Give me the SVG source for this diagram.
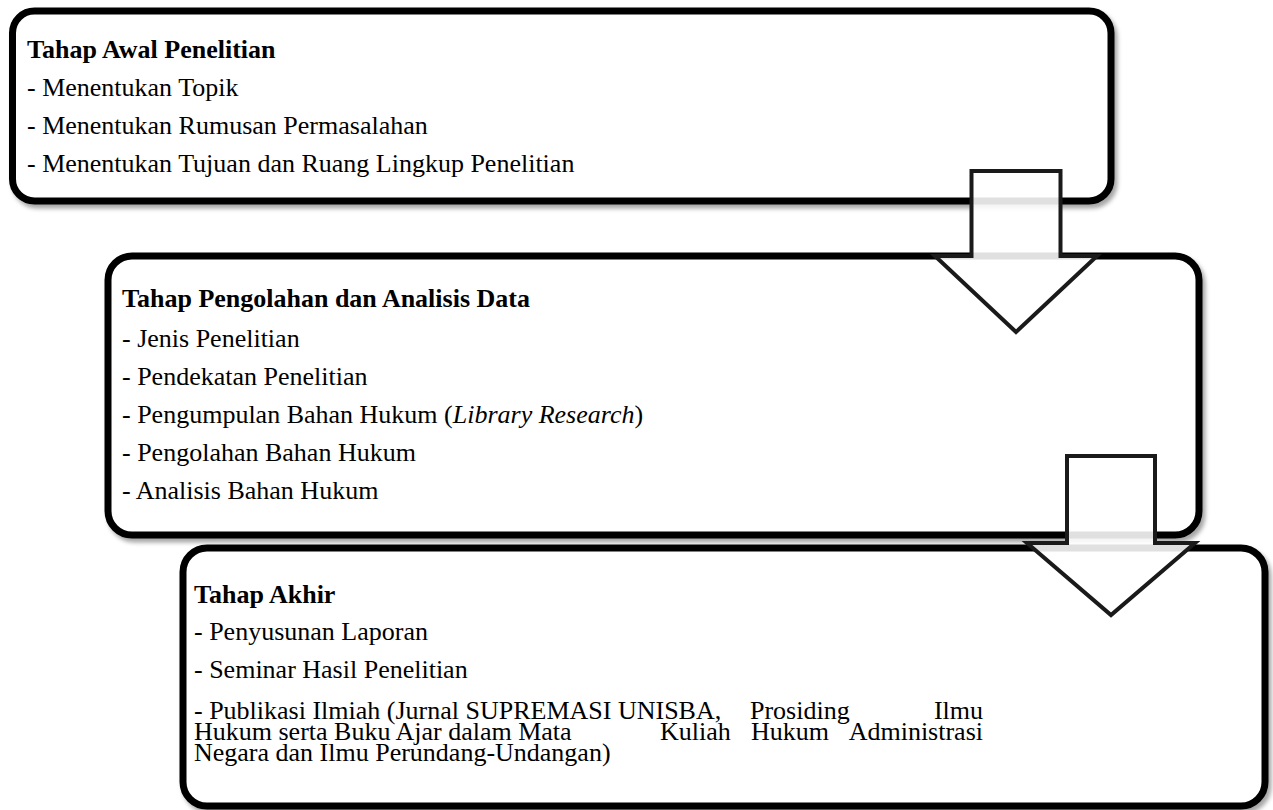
<svg xmlns="http://www.w3.org/2000/svg" width="1273" height="810" viewBox="0 0 1273 810">
<defs>
<filter id="sh" x="-5%" y="-5%" width="110%" height="115%">
<feDropShadow dx="3" dy="4" stdDeviation="2" flood-color="#000" flood-opacity="0.35"/>
</filter>
<style>
.box{fill:#fff;stroke:#000;stroke-width:7;filter:url(#sh)}
.t{font-family:"Liberation Serif","Times New Roman",serif;font-size:26px;fill:#000}
.b{font-weight:bold}
.arr{fill:#fff;fill-opacity:0.88;stroke:#1a1a1a;stroke-width:4;stroke-linejoin:miter}
</style>
</defs>
<rect width="1273" height="810" fill="#fff"/>
<g id="node-awal">
<rect class="box" x="12.5" y="11" width="1098.5" height="190" rx="22"/>
<text class="t b" x="27" y="58">Tahap Awal Penelitian</text>
<text class="t" x="27" y="96">- Menentukan Topik</text>
<text class="t" x="27" y="134">- Menentukan Rumusan Permasalahan</text>
<text class="t" x="27" y="172">- Menentukan Tujuan dan Ruang Lingkup Penelitian</text>
</g>
<g id="node-pengolahan">
<rect class="box" x="108" y="256" width="1091" height="279" rx="24"/>
<text class="t b" x="122" y="307">Tahap Pengolahan dan Analisis Data</text>
<text class="t" x="122" y="347">- Jenis Penelitian</text>
<text class="t" x="122" y="385">- Pendekatan Penelitian</text>
<text class="t" x="122" y="423">- Pengumpulan Bahan Hukum (<tspan font-style="italic">Library Research</tspan>)</text>
<text class="t" x="122" y="461">- Pengolahan Bahan Hukum</text>
<text class="t" x="122" y="499">- Analisis Bahan Hukum</text>
</g>
<g id="node-akhir">
<rect class="box" x="183" y="548" width="1082" height="258" rx="24"/>
<text class="t b" x="194" y="603">Tahap Akhir</text>
<text class="t" x="194" y="640">- Penyusunan Laporan</text>
<text class="t" x="194" y="678">- Seminar Hasil Penelitian</text>
<text class="t"><tspan x="194" y="719">- Publikasi Ilmiah (Jurnal SUPREMASI UNISBA,</tspan><tspan x="750" y="719">Prosiding</tspan><tspan x="983" y="719" text-anchor="end">Ilmu</tspan><tspan x="194" y="740">Hukum serta Buku Ajar dalam Mata</tspan><tspan x="660" y="740">Kuliah</tspan><tspan x="751" y="740">Hukum</tspan><tspan x="983" y="740" text-anchor="end">Administrasi</tspan><tspan x="194" y="761">Negara dan Ilmu Perundang-Undangan)</tspan></text>
</g>
<g id="connectors">
<path class="arr" d="M971.5,171 H1060.5 V256 H1097 L1016,332 L935,256 H971.5 Z"/>
<path class="arr" d="M1067,456 H1155 V543 H1195 L1111,615 L1027,543 H1067 Z"/>
</g>
</svg>
